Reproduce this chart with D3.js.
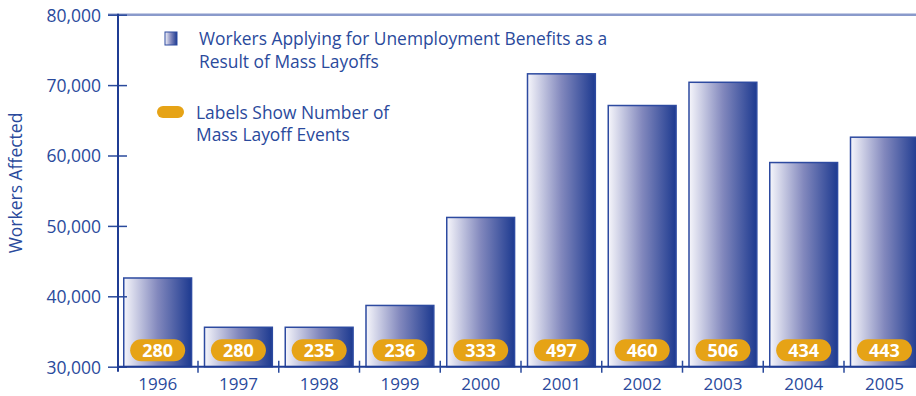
<!DOCTYPE html>
<html>
<head>
<meta charset="utf-8">
<script src="https://cdn.jsdelivr.net/npm/d3@7"></script>
<style>
  body { margin: 0; background: #fff; }
  text { font-family: "Open Sans", "Noto Sans", sans-serif; }
</style>
</head>
<body>
<div id="chart"></div>
<script>
// values
const years = ['1996', '1997', '1998', '1999', '2000', '2001', '2002', '2003', '2004', '2005'];
const workers = [42600, 35600, 35600, 38700, 51200, 71600, 67100, 70400, 59000, 62600];
const layoffEvents = [280, 280, 235, 236, 333, 497, 460, 506, 434, 443];
const yTicks = [30000, 40000, 50000, 60000, 70000, 80000];

const legendLines1 = ['Workers Applying for Unemployment Benefits as a', 'Result of Mass Layoffs'];
const legendLines2 = ['Labels Show Number of', 'Mass Layoff Events'];

const dimensions = {
  width: 916,
  height: 396,
  margin: { top: 14.7, left: 118, bottom: 29.3 }
};
const blue = '#2a4a9c';
const darkBlue = '#1f3c93';
const orange = '#e6a316';

const svg = d3.select('#chart').append('svg')
  .attr('width', dimensions.width)
  .attr('height', dimensions.height);

const defs = svg.append('defs');
const grad = defs.append('linearGradient').attr('id', 'barGrad')
  .attr('x1', '0%').attr('x2', '100%').attr('y1', '0%').attr('y2', '0%');
grad.append('stop').attr('offset', '0%').attr('stop-color', '#f6f6fb');
grad.append('stop').attr('offset', '50%').attr('stop-color', '#8288bd');
grad.append('stop').attr('offset', '100%').attr('stop-color', '#1d3a90');

const axisY = dimensions.height - dimensions.margin.bottom;

const yScale = d3.scaleLinear()
  .domain([30000, 80000])
  .range([axisY, dimensions.margin.top]);

const xScale = d3.scaleBand()
  .domain(years)
  .range([117.25, 924.75])
  .padding(0);

const barOffset = 6.5;
const barWidth = xScale.bandwidth() * 0.84;

// top border line
svg.append('line')
  .attr('x1', 108).attr('x2', dimensions.width)
  .attr('y1', yScale(80000)).attr('y2', yScale(80000))
  .attr('stroke', '#8a9acb').attr('stroke-width', 2.5);

// bars
const rows = years.map((y, i) => ({ year: y, value: workers[i], events: layoffEvents[i] }));
const bars = svg.append('g');
bars.selectAll('.bar').data(rows).enter().append('rect')
  .attr('class', 'bar')
  .attr('x', d => xScale(d.year) + barOffset)
  .attr('y', d => yScale(d.value))
  .attr('width', barWidth)
  .attr('height', d => axisY - yScale(d.value))
  .attr('fill', 'url(#barGrad)')
  .attr('stroke', '#2d4aa0')
  .attr('stroke-width', 1.5);

// event labels (orange pills)
const pills = bars.selectAll('.pill').data(rows).enter().append('g')
  .attr('class', 'pill')
  .attr('transform', d => `translate(${xScale(d.year) + barOffset + barWidth / 2},${axisY - 16.5})`);
pills.append('rect')
  .attr('x', -27.5).attr('y', -11)
  .attr('width', 55).attr('height', 22)
  .attr('rx', 11).attr('ry', 11)
  .attr('fill', orange);
pills.append('text')
  .attr('text-anchor', 'middle')
  .attr('y', 6.5)
  .attr('fill', '#fff')
  .attr('font-size', '18px')
  .attr('font-weight', 'bold')
  .text(d => d.events);

// y axis
const yAxis = d3.axisLeft(yScale)
  .tickValues(yTicks)
  .tickFormat(d3.format(','))
  .tickSize(10)
  .tickPadding(7);
const yg = svg.append('g')
  .attr('transform', `translate(${dimensions.margin.left},0)`)
  .call(yAxis);
yg.select('.domain').remove();
yg.selectAll('.tick line').attr('x2', -10).attr('x1', 9).attr('stroke', blue).attr('stroke-width', 1.5);
yg.selectAll('.tick text').attr('fill', blue).attr('font-size', '17.5px').attr('dy', '0.36em')
  .attr('font-family', '"Open Sans", sans-serif');
svg.append('line')
  .attr('x1', dimensions.margin.left).attr('x2', dimensions.margin.left)
  .attr('y1', yScale(80000) - 1).attr('y2', axisY + 5)
  .attr('stroke', darkBlue).attr('stroke-width', 2);

// x axis
svg.append('line')
  .attr('x1', dimensions.margin.left).attr('x2', dimensions.width)
  .attr('y1', axisY).attr('y2', axisY)
  .attr('stroke', darkBlue).attr('stroke-width', 2);
const xAxis = d3.axisBottom(xScale).tickSize(0).tickPadding(11);
const xg = svg.append('g')
  .attr('transform', `translate(0,${axisY})`)
  .call(xAxis);
xg.select('.domain').remove();
xg.selectAll('.tick text').attr('fill', blue).attr('font-size', '17px')
  .attr('font-family', '"Open Sans", sans-serif')
  .attr('transform', `translate(${barOffset + barWidth / 2 - xScale.bandwidth() / 2},0)`);
// separator ticks between years
svg.append('g').selectAll('line').data(years.slice(1)).enter().append('line')
  .attr('x1', d => xScale(d)).attr('x2', d => xScale(d))
  .attr('y1', axisY - 6).attr('y2', axisY + 6)
  .attr('stroke', blue).attr('stroke-width', 1.5);

// y axis title
svg.append('text')
  .attr('transform', 'rotate(-90)')
  .attr('x', -183).attr('y', 22)
  .attr('text-anchor', 'middle')
  .attr('fill', blue)
  .attr('font-size', '17.5px')
  .text('Workers Affected');

// legend
const legend = svg.append('g');
legend.append('rect')
  .attr('x', 165).attr('y', 32).attr('width', 12).attr('height', 13)
  .attr('fill', 'url(#barGrad)').attr('stroke', '#2d4aa0').attr('stroke-width', 1);
legend.selectAll('.l1').data(legendLines1).enter().append('text')
  .attr('class', 'l1')
  .attr('x', 199).attr('y', (d, i) => 45 + i * 23)
  .attr('fill', blue).attr('font-size', '17.4px')
  .text(d => d);
legend.append('rect')
  .attr('x', 157).attr('y', 106).attr('width', 27).attr('height', 12)
  .attr('rx', 6).attr('fill', orange);
legend.selectAll('.l2').data(legendLines2).enter().append('text')
  .attr('class', 'l2')
  .attr('x', 196).attr('y', (d, i) => 119 + i * 22)
  .attr('fill', blue).attr('font-size', '17.4px')
  .text(d => d);
</script>
</body>
</html>
